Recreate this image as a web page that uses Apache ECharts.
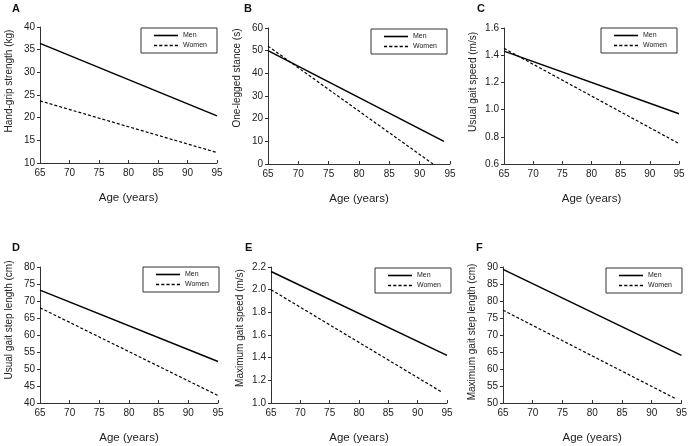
<!DOCTYPE html>
<html><head><meta charset="utf-8">
<script src="https://cdn.jsdelivr.net/npm/echarts@6/dist/echarts.min.js"></script>
<style>html,body{margin:0;padding:0;background:#fff}#c{width:690px;height:446px}</style>
</head><body><div id="c"></div>
<script>
// ---- data ----
const panelLetters = ['A','B','C','D','E','F'];
const yNames = ['Hand-grip strength (kg)','One-legged stance (s)','Usual gait speed (m/s)',
                'Usual gait step length (cm)','Maximum gait speed (m/s)','Maximum gait step length (cm)'];
const xName = 'Age (years)';
const xMin = 65, xMax = 95, xInterval = 5;
const yMins = [10, 0, 0.6, 40, 1.0, 50];
const yMaxs = [40, 60, 1.6, 80, 2.2, 90];
const yIntervals = [5, 10, 0.2, 5, 0.2, 5];
const yDecimals = [0, 0, 1, 0, 1, 0];
const seriesNames = ['Men', 'Women'];
const menAges   = [[65,95],[65,94],[65,95],[65,95],[65,95],[65,95]];
const menValues = [[36.4,20.4],[50,10],[1.43,0.97],[73.2,52.2],[2.16,1.42],[89.3,64]];
const womenAges   = [[65,95],[65,92.2],[65,95],[65,95],[65,94],[65,94]];
const womenValues = [[23.7,12.3],[52,0],[1.45,0.75],[68,42.2],[2.0,1.1],[77.3,51.3]];

// ---- layout ----
const grids = [
  {left:40, top:27, width:177, height:136},
  {left:268, top:28, width:182, height:136},
  {left:504, top:28, width:175, height:136},
  {left:40, top:267, width:178, height:136},
  {left:271, top:267, width:176, height:136},
  {left:503, top:267, width:179, height:136}
];
const yNameShift = [14, 18, 14, 15, 7, 3]; // px upward shift of the y-axis title
const letterPos = [[12,3],[244,3],[477,3],[12,242],[245,242],[476,242]];
const legendPos = [[141,28],[371,29],[601,28],[143,267],[375,268],[606,268]];
const font = '"Liberation Sans", Arial, sans-serif';
const ink = '#222';
const solidIcon = 'path://M0,0h24v1.6h-24z';
const dashIcon = 'path://M0,0h3v1.3h-3z M5,0h3v1.3h-3z M10,0h3v1.3h-3z M15,0h3v1.3h-3z M20,0h3v1.3h-3z';

const option = {
  animation:false,
  backgroundColor:'#fff',
  title: panelLetters.map((t,i)=>({text:t, left:letterPos[i][0], top:letterPos[i][1], padding:0,
    textStyle:{fontFamily:font, fontSize:11, fontWeight:'bold', color:'#111'}})),
  grid: grids.map(g=>Object.assign({containLabel:false}, g)),
  legend: legendPos.map((p,i)=>({
    left:p[0], top:p[1], orient:'vertical',
    data:[{name:seriesNames[0]+'\u200b'.repeat(i), icon:solidIcon},
          {name:seriesNames[1]+'\u200b'.repeat(i), icon:dashIcon}],
    formatter: n=>n.replace(/\u200b/g,''),
    borderColor:'#333', borderWidth:1, padding:[4,10,4,13], itemGap:3,
    itemWidth:24, itemHeight:1.6, textStyle:{fontFamily:font, fontSize:7, color:ink},
    itemStyle:{color:'#000'},
    backgroundColor:'#fff'
  })),
  xAxis: grids.map((g,i)=>({
    type:'value', gridIndex:i, min:xMin, max:xMax, interval:xInterval,
    name:xName, nameLocation:'middle', nameGap:29,
    nameTextStyle:{fontFamily:font, fontSize:11.5, color:ink},
    axisLine:{lineStyle:{color:'#333', width:1}},
    axisTick:{show:true, inside:true, length:3, lineStyle:{color:'#333'}},
    axisLabel:{fontFamily:font, fontSize:10, color:ink, margin:5},
    splitLine:{show:false}
  })),
  yAxis: grids.map((g,i)=>({
    type:'value', gridIndex:i, min:yMins[i], max:yMaxs[i], interval:yIntervals[i],
    name:yNames[i], nameLocation:'middle', nameGap:26,
    nameTextStyle:{fontFamily:font, fontSize:10, color:ink, padding:[0,0,0,2*yNameShift[i]]},
    axisLine:{show:true, lineStyle:{color:'#333', width:1}},
    axisTick:{show:true, length:3, lineStyle:{color:'#333'}},
    axisLabel:{fontFamily:font, fontSize:10, color:ink, margin:5,
      formatter:v=>v.toFixed(yDecimals[i])},
    splitLine:{show:false}
  })),
  series: []
};
for (let i=0;i<6;i++){
  option.series.push({
    type:'line', name:seriesNames[0]+'\u200b'.repeat(i), xAxisIndex:i, yAxisIndex:i, symbol:'none',
    data: menAges[i].map((a,k)=>[a, menValues[i][k]]),
    lineStyle:{color:'#000', width:1.5, type:'solid'}, itemStyle:{color:'#000'}
  });
  option.series.push({
    type:'line', name:seriesNames[1]+'\u200b'.repeat(i), xAxisIndex:i, yAxisIndex:i, symbol:'none',
    data: womenAges[i].map((a,k)=>[a, womenValues[i][k]]),
    lineStyle:{color:'#000', width:1.2, type:[3,2]}, itemStyle:{color:'#000'}
  });
}
const chart = echarts.init(document.getElementById('c'), null, {renderer:'canvas'});
chart.setOption(option);
</script></body></html>
